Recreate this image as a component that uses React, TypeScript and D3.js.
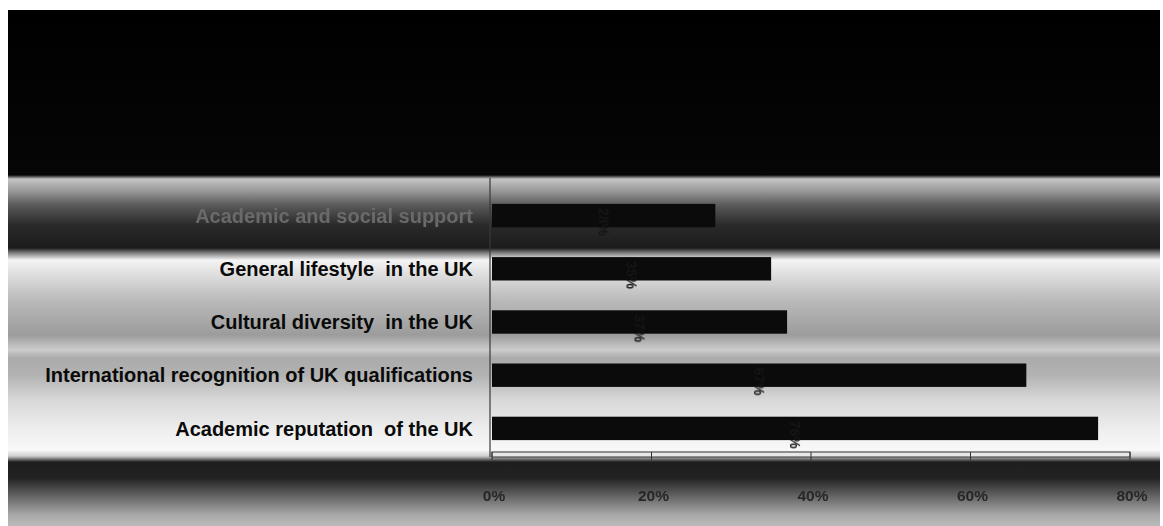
import React from "react";
import * as d3 from "d3";

const categories = [
  "Academic and social support",
  "General lifestyle  in the UK",
  "Cultural diversity  in the UK",
  "International recognition of UK qualifications",
  "Academic reputation  of the UK",
];
const values = [28, 35, 37, 67, 76];
const ticks = [0, 20, 40, 60, 80];

const W = 1163;
const H = 526;

const bgStops: [number, string][] = [
  [10, "#000000"],
  [175, "#060606"],
  [179, "#c4c4c4"],
  [190, "#9c9c9c"],
  [205, "#5a5a5a"],
  [225, "#2a2a2a"],
  [248, "#1c1c1c"],
  [253, "#808080"],
  [260, "#f4f4f4"],
  [275, "#dedede"],
  [300, "#bababa"],
  [335, "#9c9c9c"],
  [350, "#cccccc"],
  [358, "#ababab"],
  [375, "#b2b2b2"],
  [400, "#d8d8d8"],
  [430, "#eeeeee"],
  [450, "#f8f8f8"],
  [456, "#cfcfcf"],
  [462, "#1e1e1e"],
  [478, "#222222"],
  [500, "#727272"],
  [515, "#a8a8a8"],
  [526, "#bababa"],
];

export default function App() {
  const x = d3.scaleLinear().domain([0, 80]).range([492, 1130]);
  const y = d3
    .scaleBand<string>()
    .domain(categories)
    .range([189, 455])
    .paddingInner(0.56)
    .paddingOuter(0.28);
  const top = 10;
  const bottom = 526;
  return (
    <svg
      width={W}
      height={H}
      style={{ position: "absolute", left: 0, top: 0, display: "block", background: "#fff" }}
      fontFamily="'Liberation Sans', Arial, sans-serif"
    >
      <defs>
        <linearGradient id="bg" x1="0" y1={top} x2="0" y2={bottom} gradientUnits="userSpaceOnUse">
          {bgStops.map(([yy, c], i) => (
            <stop key={i} offset={(yy - top) / (bottom - top)} stopColor={c} />
          ))}
        </linearGradient>
        <filter id="blur" x="-5%" y="-20%" width="110%" height="140%">
          <feGaussianBlur stdDeviation="0.5" />
        </filter>
      </defs>
      <rect x={8} y={top} width={1152} height={bottom - top} fill="url(#bg)" />
      {/* vertical axis */}
      <line x1={490} x2={490} y1={178} y2={457} stroke="#3a3a3a" strokeWidth={1.2} />
      {/* bars */}
      {categories.map((c, i) => (
        <rect
          key={c}
          x={x(0)}
          y={y(c)!}
          width={x(values[i]) - x(0)}
          height={y.bandwidth()}
          fill="#0b0b0b"
        />
      ))}
      {/* bar labels (rotated) */}
      {categories.map((c, i) => {
        const cx = x(values[i] / 2);
        const cy = y(c)! + 4;
        return (
          <text
            key={c + "l"}
            transform={`translate(${cx},${cy}) rotate(90)`}
            fontSize={14}
            fontWeight="bold"
            fill="#141414"
            dy="0.35em"
            filter="url(#blur)"
          >
            {values[i]}%
          </text>
        );
      })}
      {/* category labels */}
      {categories.map((c, i) => (
        <text
          key={c + "c"}
          x={473}
          y={y(c)! + y.bandwidth() / 2}
          dy="0.36em"
          textAnchor="end"
          fontSize={20}
          fontWeight="bold"
          fill={i === 0 ? "#6a6a6a" : "#0a0a0a"}
          filter={i === 0 ? "url(#blur)" : undefined}
          style={{ whiteSpace: "pre" }}
        >
          {c}
        </text>
      ))}
      {/* x axis */}
      <rect x={x(0)} y={452} width={x(80) - x(0)} height={5} fill="#e8e8e8" stroke="#333" strokeWidth={1} />
      {ticks.map((t) => (
        <g key={t}>
          <line x1={x(t)} x2={x(t)} y1={452} y2={460} stroke="#333" strokeWidth={1} />
          <text
            x={x(t) + 2}
            y={496}
            dy="0.35em"
            textAnchor="middle"
            fontSize={15.5}
            fontWeight="bold"
            fill="#262626"
            filter="url(#blur)"
          >
            {t}%
          </text>
        </g>
      ))}
    </svg>
  );
}
